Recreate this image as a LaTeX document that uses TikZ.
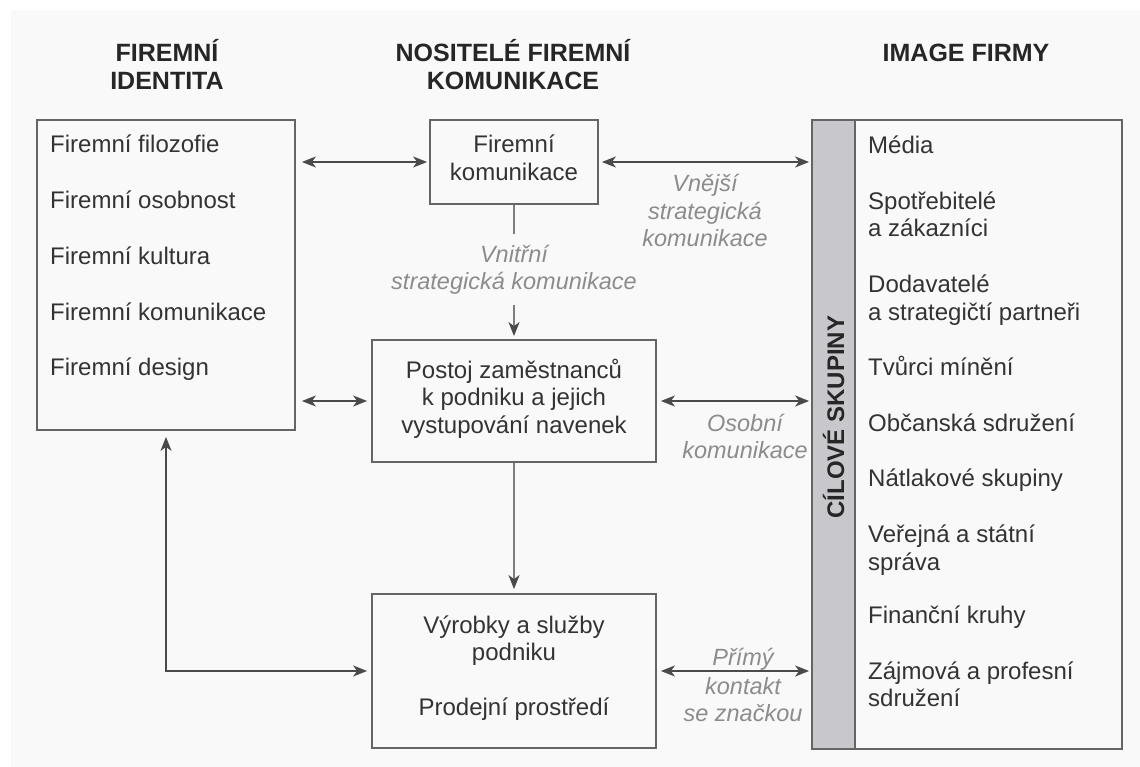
\documentclass[tikz,border=0pt]{standalone}
\usepackage{fontspec}
\setmainfont{Liberation Sans}
\usetikzlibrary{arrows.meta}
\definecolor{ink}{HTML}{333333}
\definecolor{edge}{HTML}{4A4A4A}
\definecolor{soft}{HTML}{8C8C8C}
\definecolor{paper}{HTML}{F9F9F9}
\definecolor{band}{HTML}{C8C8CC}
\begin{document}
\begin{tikzpicture}[x=1pt,y=-1pt,
  frame/.style={draw=edge!85!white,line width=1.8pt,rectangle,inner sep=0pt},
  item/.style={anchor=base west,inner sep=0pt,text=ink,font=\fontsize{24}{27}\selectfont},
  ctext/.style={anchor=base,inner sep=0pt,text=ink,font=\fontsize{24}{27}\selectfont},
  note/.style={anchor=base,inner sep=0pt,text=soft,font=\itshape\fontsize{23.5}{27}\selectfont},
  head/.style={anchor=base,inner sep=0pt,text=black!85,font=\bfseries\fontsize{25}{28}\selectfont},
  link/.style={draw=edge,line width=1.8pt,{Stealth[length=14pt,width=11pt,inset=4pt]}-{Stealth[length=14pt,width=11pt,inset=4pt]}},
  feed/.style={draw=soft!90!black,line width=1.8pt,-{Stealth[length=14pt,width=11pt,inset=4pt,color=edge]}},
  plain/.style={draw=soft!90!black,line width=1.8pt}]

% page and background
\useasboundingbox (0,0) rectangle (1140,767);
\fill[paper] (11,10) rectangle (1140,767);

% column headings
\node[head] (h1a) at (167,62) {FIREMNÍ};
\node[head] (h1b) at (167,90) {IDENTITA};
\node[head] (h2a) at (513,62) {NOSITELÉ FIREMNÍ};
\node[head] (h2b) at (513,90) {KOMUNIKACE};
\node[head] (h3a) at (966,62) {IMAGE FIRMY};

% corporate identity box
\node[frame,minimum width=258pt,minimum height=310pt] (idbox) at (166,275) {};
\node[item] (id1) at (50,153) {Firemní filozofie};
\node[item] (id2) at (50,209) {Firemní osobnost};
\node[item] (id3) at (50,265) {Firemní kultura};
\node[item] (id4) at (50,320) {Firemní komunikace};
\node[item] (id5) at (50,375) {Firemní design};

% carriers of corporate communication
\node[frame,minimum width=168pt,minimum height=84pt] (fk) at (514,162) {};
\node[ctext] (fk1) at (514,153) {Firemní};
\node[ctext] (fk2) at (514,181) {komunikace};

\node[frame,minimum width=284pt,minimum height=122pt] (postoj) at (514,401) {};
\node[ctext] (p1) at (514,378) {Postoj zaměstnanců};
\node[ctext] (p2) at (514,405) {k podniku a jejich};
\node[ctext] (p3) at (514,433) {vystupování navenek};

\node[frame,minimum width=284pt,minimum height=154pt] (vy) at (514,671) {};
\node[ctext] (v1) at (514,633) {Výrobky a služby};
\node[ctext] (v2) at (514,660) {podniku};
\node[ctext] (v3) at (514,715) {Prodejní prostředí};

% target groups
\node[frame,minimum width=310pt,minimum height=629pt] (grp) at (967,434.5) {};
\node[frame,fill=band,minimum width=43pt,minimum height=629pt] (bar) at (833.5,434.5) {};
\node[rotate=90,inner sep=0pt,text=black!85,font=\bfseries\fontsize{24}{27}\selectfont] (cs) at (833.5,417) {CÍLOVÉ SKUPINY};

\node[item] (g1) at (868,154) {Média};
\node[item] (g2a) at (868,210) {Spotřebitelé};
\node[item] (g2b) at (868,237) {a zákazníci};
\node[item] (g3a) at (868,293) {Dodavatelé};
\node[item] (g3b) at (868,320) {a strategičtí partneři};
\node[item] (g4) at (868,375) {Tvůrci mínění};
\node[item] (g5) at (868,431) {Občanská sdružení};
\node[item] (g6) at (868,486) {Nátlakové skupiny};
\node[item] (g7a) at (868,542) {Veřejná a státní};
\node[item] (g7b) at (868,570) {správa};
\node[item] (g8) at (868,623) {Finanční kruhy};
\node[item] (g9a) at (868,679) {Zájmová a profesní};
\node[item] (g9b) at (868,706) {sdružení};

% connectors
\draw[link,shorten <=6pt,shorten >=2pt] (idbox.east |- fk.west) -- (fk.west);
\draw[link,shorten <=3pt,shorten >=2pt] (fk.east) -- (fk.east -| bar.west);
\draw[link,shorten <=6pt,shorten >=4pt] (idbox.east |- postoj.west) -- (postoj.west);
\draw[link,shorten <=4pt,shorten >=2pt] (postoj.east) -- (postoj.east -| bar.west);
\draw[link,shorten <=4pt,shorten >=2pt] (vy.east) -- (vy.east -| bar.west);
\draw[link,shorten <=4pt,shorten >=6pt] (vy.west) -| (idbox.south);

\coordinate (vtop) at (514,305);
\draw[plain] (fk.south) -- ++(0,29);
\draw[feed,shorten >=3pt] (vtop) -- (postoj.north);
\draw[feed,shorten >=4pt] (postoj.south) -- (vy.north);

% connector labels
\node[note] (n1a) at (514,263) {Vnitřní};
\node[note] (n1b) at (514,290) {strategická komunikace};
\node[note] (n2a) at (705,192) {Vnější};
\node[note] (n2b) at (705,220) {strategická};
\node[note] (n2c) at (705,247) {komunikace};
\node[note] (n3a) at (745,431) {Osobní};
\node[note] (n3b) at (745,458) {komunikace};
\node[note] (n4a) at (743,665) {Přímý};
\node[note] (n4b) at (743,694) {kontakt};
\node[note] (n4c) at (743,721) {se značkou};
\end{tikzpicture}
\end{document}
